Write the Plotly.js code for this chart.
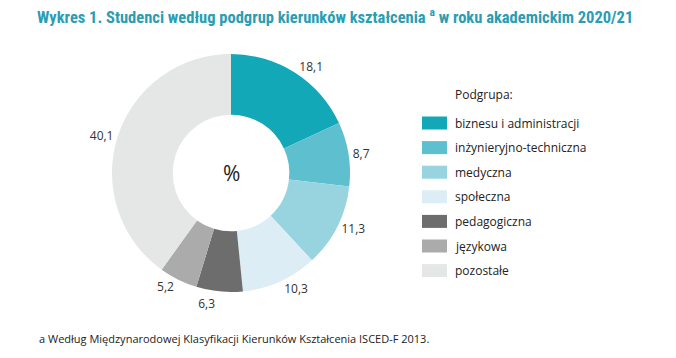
<!DOCTYPE html>
<html><head><meta charset="utf-8">
<script src="https://cdn.plot.ly/plotly-3.0.1.min.js"></script>
<style>html,body{margin:0;padding:0;background:#fff}#c{width:676px;height:358px}path.textline{display:none}</style>
</head><body><div id="c"></div>
<script>
const categories = ["biznesu i administracji","inżynieryjno-techniczna","medyczna","społeczna","pedagogiczna","językowa","pozostałe"];
const values = [18.1, 8.7, 11.3, 10.3, 6.3, 5.2, 40.1];
const colors = ["#12a8b8","#5ec0cf","#98d4df","#dcedf5","#6d6d6d","#ababab","#e5e6e6"];
const legendTitle = "Podgrupa:";
const titleText = "Wykres 1. Studenci według podgrup kierunków kształcenia <sup>a</sup> w roku akademickim 2020/21";
const footnote = "a Według Międzynarodowej Klasyfikacji Kierunków Kształcenia ISCED-F 2013.";

const fmt = v => v.toFixed(1).replace('.', ',');
const W = 676, H = 358;

const trace = {
  type: 'pie', labels: categories, values: values, sort: false,
  direction: 'clockwise', rotation: 0, hole: 0.49,
  marker: {colors: colors, line: {width: 0}},
  text: values.map(fmt), textinfo: 'text', textposition: 'outside',
  outsidetextfont: {family: 'Open Sans, sans-serif', size: 12, color: '#333'},
  domain: {x: [112/W, 350/W], y: [(H-292)/H, (H-54)/H]},
  showlegend: false, hoverinfo: 'label+value'
};

const shapes = [], annotations = [];
const legX0 = 422, legX1 = 447, legY0 = 123, legStep = 24.6;
categories.forEach((c, i) => {
  const yc = legY0 + i * legStep;
  shapes.push({type: 'rect', xref: 'paper', yref: 'paper',
    x0: legX0/W, x1: legX1/W, y0: (H-(yc-6.5))/H, y1: (H-(yc+6.5))/H,
    fillcolor: colors[i], line: {width: 0}});
  annotations.push({xref: 'paper', yref: 'paper', x: 453/W, y: (H-yc)/H,
    xanchor: 'left', yanchor: 'middle', showarrow: false, text: c,
    font: {family: 'Open Sans, sans-serif', size: 12, color: '#222'}});
});
annotations.push({xref: 'paper', yref: 'paper', x: 453/W, y: (H-94)/H,
  xanchor: 'left', yanchor: 'middle', showarrow: false, text: legendTitle,
  font: {family: 'Open Sans, sans-serif', size: 12, color: '#222'}});
annotations.push({xref: 'paper', yref: 'paper', x: 231/W, y: (H-173)/H,
  xanchor: 'center', yanchor: 'middle', showarrow: false, text: '%',
  font: {family: 'Open Sans, sans-serif', size: 21, color: '#222'}});
annotations.push({xref: 'paper', yref: 'paper', x: 37/W, y: (H-338)/H,
  xanchor: 'left', yanchor: 'middle', showarrow: false, text: footnote,
  font: {family: 'Open Sans, sans-serif', size: 11, color: '#222'}});

const layout = {
  width: W, height: H, margin: {l: 0, r: 0, t: 0, b: 0},
  paper_bgcolor: '#fff', plot_bgcolor: '#fff',
  separators: ',.',
  title: {text: titleText, x: 37/W, xanchor: 'left', y: (H-17)/H, yanchor: 'middle',
    font: {family: 'Roboto Condensed, Roboto, sans-serif', size: 16.5, color: '#2a9db3', weight: 'bold'}},
  shapes: shapes, annotations: annotations, showlegend: false
};
Plotly.newPlot('c', [trace], layout, {displayModeBar: false, staticPlot: true});
</script></body></html>
